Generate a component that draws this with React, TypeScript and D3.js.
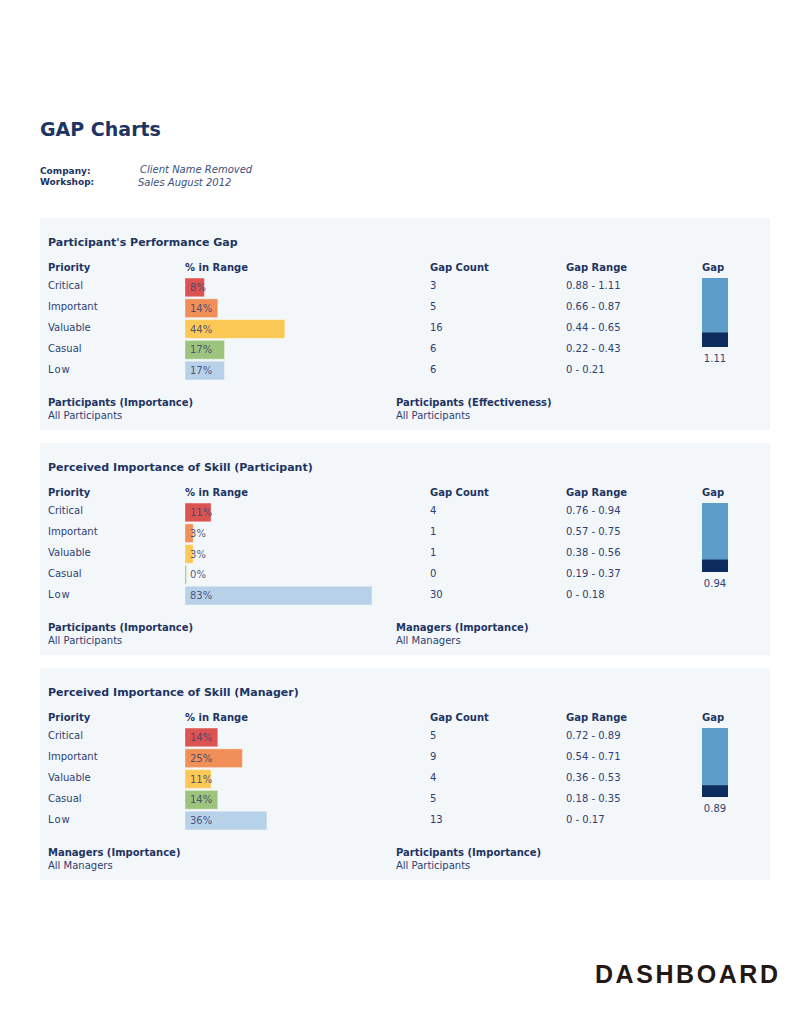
import * as d3 from "d3";

const priorities = ["Critical", "Important", "Valuable", "Casual", "Low"];
const barColors = ["#dc5452", "#f08f58", "#fcc957", "#9dc47c", "#b7d1e9"];

const panelTitles = [
  "Participant's Performance Gap",
  "Perceived Importance of Skill (Participant)",
  "Perceived Importance of Skill (Manager)",
];
const pctPerformance = [8, 14, 44, 17, 17];
const pctParticipant = [11, 3, 3, 0, 83];
const pctManager = [14, 25, 11, 14, 36];

const countPerformance = [3, 5, 16, 6, 6];
const countParticipant = [4, 1, 1, 0, 30];
const countManager = [5, 9, 4, 5, 13];

const rangePerformance = ["0.88 - 1.11", "0.66 - 0.87", "0.44 - 0.65", "0.22 - 0.43", "0 - 0.21"];
const rangeParticipant = ["0.76 - 0.94", "0.57 - 0.75", "0.38 - 0.56", "0.19 - 0.37", "0 - 0.18"];
const rangeManager = ["0.72 - 0.89", "0.54 - 0.71", "0.36 - 0.53", "0.18 - 0.35", "0 - 0.17"];

const gapTotals = ["1.11", "0.94", "0.89"];
const gapLowUpper = [0.21, 0.18, 0.17];

const footLeft = [
  ["Participants (Importance)", "All Participants"],
  ["Participants (Importance)", "All Participants"],
  ["Managers (Importance)", "All Managers"],
];
const footRight = [
  ["Participants (Effectiveness)", "All Participants"],
  ["Managers (Importance)", "All Managers"],
  ["Participants (Importance)", "All Participants"],
];

const pcts = [pctPerformance, pctParticipant, pctManager];
const counts = [countPerformance, countParticipant, countManager];
const ranges = [rangePerformance, rangeParticipant, rangeManager];

const NAVY = "#1e3462";
const BODY = "#2d3f73";
const SANS = "'DejaVu Sans', Verdana, sans-serif";

const W = 791;
const H = 1024;
const PANEL_TOP = 218;
const PANEL_STEP = 225;

// bar length scale (percent -> px)
const x = d3.scaleLinear().domain([0, 100]).range([1.5, 225]);
// row positions inside a panel
const row = d3.scaleBand<string>().domain(priorities).range([59, 163]).paddingInner(0.1).paddingOuter(0.05);
// gap gauge, fixed 0..1 scale
const gauge = d3.scaleLinear().domain([0, 1]).range([0, 69]);

const COL = { label: 48, bar: 185, count: 430, range: 566, gap: 702, right: 396 };

function Panel({ i }: { i: number }) {
  const top = PANEL_TOP + i * PANEL_STEP;
  const gy = 60;
  const gh = 69;
  const dark = gauge(gapLowUpper[i]);
  return (
    <g transform={`translate(0,${top})`}>
      <rect x={40} y={0} width={730} height={212} fill="#f3f7fa" />
      <text x={COL.label} y={24} dy="0.35em" fontFamily={SANS} fontWeight="bold" fontSize={11} fill={NAVY}>
        {panelTitles[i]}
      </text>
      {/* headers */}
      <g fontFamily={SANS} fontWeight="bold" fontSize={10} fill={NAVY}>
        <text x={COL.label} y={49.5} dy="0.35em">Priority</text>
        <text x={COL.bar} y={49.5} dy="0.35em">% in Range</text>
        <text x={COL.count} y={49.5} dy="0.35em">Gap Count</text>
        <text x={COL.range} y={49.5} dy="0.35em">Gap Range</text>
        <text x={COL.gap} y={49.5} dy="0.35em">Gap</text>
      </g>
      {priorities.map((p, j) => {
        const y0 = row(p) ?? 0;
        const bw = row.bandwidth();
        const cy = y0 + bw / 2;
        return (
          <g key={p} fontFamily={SANS} fontSize={10}>
            <text x={COL.label} y={cy - 1.5} dy="0.35em" fill={BODY} letterSpacing={p === "Low" ? 1 : 0}>
              {p}
            </text>
            <rect
              x={COL.bar}
              y={y0}
              width={x(pcts[i][j])}
              height={bw}
              fill={barColors[j]}
              stroke="#ffffff"
              strokeOpacity={0.35}
              strokeWidth={1}
            />
            <text x={COL.bar + 5} y={cy} dy="0.35em" fill="#3a4575" fillOpacity={0.9}>
              {pcts[i][j]}%
            </text>
            <text x={COL.count} y={cy - 1.5} dy="0.35em" fill={BODY}>
              {counts[i][j]}
            </text>
            <text x={COL.range} y={cy - 1.5} dy="0.35em" fill={BODY}>
              {ranges[i][j]}
            </text>
          </g>
        );
      })}
      {/* gap gauge */}
      <rect x={COL.gap} y={gy} width={26} height={gh} fill="#5d9dc9" />
      <rect x={COL.gap} y={gy + gh - dark} width={26} height={dark} fill="#0c2d5e" />
      <text x={COL.gap + 13} y={140} dy="0.35em" textAnchor="middle" fontFamily={SANS} fontSize={10} fill={BODY}>
        {gapTotals[i]}
      </text>
      {/* footers */}
      <g fontFamily={SANS} fontSize={10}>
        <text x={COL.label} y={184.3} dy="0.35em" fontWeight="bold" fill={NAVY}>{footLeft[i][0]}</text>
        <text x={COL.label} y={197} dy="0.35em" fill={BODY}>{footLeft[i][1]}</text>
        <text x={COL.right} y={184.3} dy="0.35em" fontWeight="bold" fill={NAVY}>{footRight[i][0]}</text>
        <text x={COL.right} y={197} dy="0.35em" fill={BODY}>{footRight[i][1]}</text>
      </g>
    </g>
  );
}

export default function App() {
  return (
    <svg
      width={W}
      height={H}
      viewBox={`0 0 ${W} ${H}`}
      style={{ position: "absolute", left: 0, top: 0, background: "#ffffff" }}
    >
      <rect width={W} height={H} fill="#ffffff" />
      <text x={40} y={129} dy="0.35em" fontFamily={SANS} fontWeight="bold" fontSize={19} fill={NAVY}>
        GAP Charts
      </text>
      <g fontFamily={SANS} fontSize={9}>
        <text x={40} y={171} dy="0.35em" fontWeight="bold" fill={NAVY}>Company:</text>
        <text x={40} y={182} dy="0.35em" fontWeight="bold" fill={NAVY}>Workshop:</text>
        <text x={140} y={169} dy="0.35em" fontStyle="italic" fontSize={10} fill="#3d4f82">Client Name Removed</text>
        <text x={138} y={182} dy="0.35em" fontStyle="italic" fontSize={10} fill="#3d4f82">Sales August 2012</text>
      </g>
      {panelTitles.map((_, i) => (
        <Panel key={i} i={i} />
      ))}
      <text
        x={595}
        y={983}
        fontFamily="'Liberation Sans', Arial, sans-serif"
        fontWeight="bold"
        fontSize={25}
        fill="#231815"
        textLength={183}
        lengthAdjust="spacing"
      >
        DASHBOARD
      </text>
    </svg>
  );
}
